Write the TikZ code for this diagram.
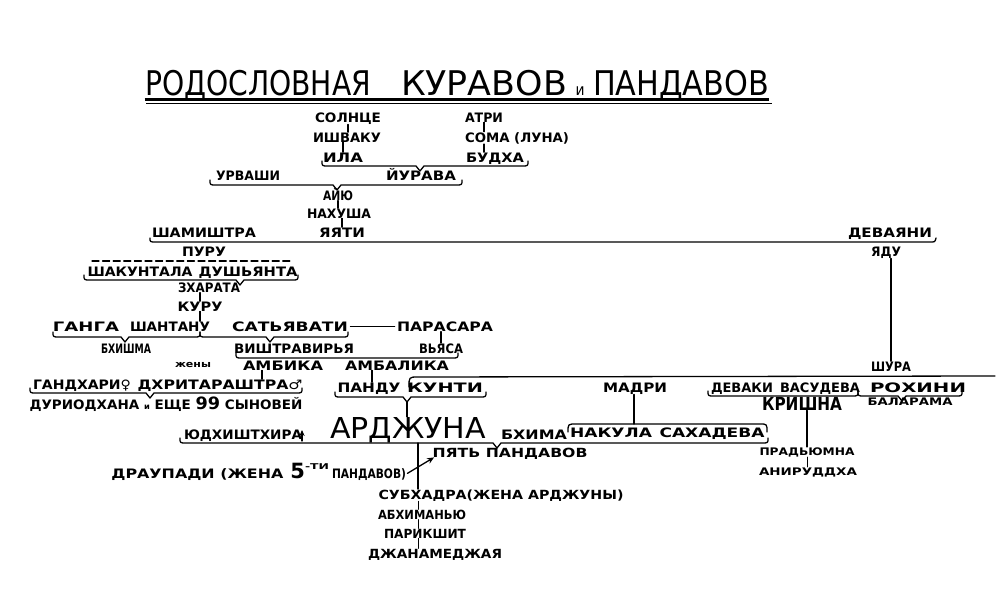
\documentclass[tikz,border=0pt]{standalone}
\usepackage{fontspec}
\usepackage{graphicx}
\setmainfont{DejaVu Sans}
\usetikzlibrary{arrows.meta}
\newsavebox\fwbox
\newlength\fwlen
\newcommand\fw[2]{\sbox\fwbox{#2}\setlength\fwlen{\wd\fwbox}\pgfmathsetmacro\fwscale{#1*0.5/\fwlen}\scalebox{\fwscale}[1]{\usebox\fwbox}}
\newcommand\fsz[1]{\fontsize{#1}{#1}\selectfont}
% underline brace with a tip: x1, x2, tip x, y
\newcommand\ubr[4]{\draw[ln] (#1,#4-5) .. controls (#1,#4) .. (#1+6,#4) -- (#3-4,#4) -- (#3,#4+5) -- (#3+4,#4) -- (#2-6,#4) .. controls (#2,#4) .. (#2,#4-5);}
% underline brace without tip: x1, x2, y
\newcommand\uln[3]{\draw[ln] (#1,#3-5) .. controls (#1,#3) .. (#1+6,#3) -- (#2-6,#3) .. controls (#2,#3) .. (#2,#3-5);}
\begin{document}
\begin{tikzpicture}[x=0.5pt,y=-0.5pt,
  lb/.style={inner sep=0pt,anchor=base,font=\bfseries\fsz{6.5}},
  lr/.style={inner sep=0pt,anchor=base,font=\bfseries\fsz{6.3}},
  sm/.style={inner sep=0pt,anchor=base,font=\bfseries\fsz{5.2}},
  ttl/.style={inner sep=0pt,anchor=base,font=\fsz{17}},
  ln/.style={line width=0.65pt,line cap=round,line join=round}]
\fill[white] (0,0) rectangle (1000,589);
\useasboundingbox (0,0) rectangle (1000,589);

% ---------- title ----------
\node[ttl] (ti1) at (258,95) {\fw{226}{РОДОСЛОВНАЯ}};
\node[ttl] (ti2) at (484,95) {\fw{166}{КУРАВОВ}};
\node[inner sep=0pt,anchor=base,font=\fsz{8}] (ti3) at (580,95) {\fw{9}{и}};
\node[ttl] (ti4) at (681,95) {\fw{176}{ПАНДАВОВ}};
\draw[line width=1.3pt] (ti1.base west |- 0,99.5) -- (ti4.base east |- 0,99.5);
\draw[line width=0.35pt] (146,103) -- (772,103);

% ---------- top ----------
\node[lb] (solnce) at (348,122) {\fw{66}{СОЛНЦЕ}};
\node[lb] (ishvaku) at (347,142) {\fw{68}{ИШВАКУ}};
\node[lb] (ila) at (343,162) {\fw{40}{ИЛА}};
\node[lb] (atri) at (484,122) {\fw{38}{АТРИ}};
\node[lb] (soma) at (517,142) {\fw{104}{СОМА (ЛУНА)}};
\node[lb] (budha) at (495,162) {\fw{58}{БУДХА}};
\draw[ln] (solnce.south) -- (solnce.south |- ishvaku.north);
\draw[ln] (ila.north |- ishvaku.south) -- (ila.north);
\draw[ln] (atri.south) -- (atri.south |- soma.north);
\draw[ln] (atri.south |- soma.south) -- (atri.south |- budha.north);
\ubr{322}{528}{420}{166}

\node[lb] (urvashi) at (248,180) {\fw{64}{УРВАШИ}};
\node[lb] (pururava) at (421,180) {\fw{70}{ЙУРАВА}};
\ubr{210}{462}{337}{185}

\node[lb] (ayu) at (338,200) {\fw{30}{АЙЮ}};
\node[lb] (nahusha) at (339,218) {\fw{64}{НАХУША}};
\node[lb] (yayati) at (342,237) {\fw{46}{ЯЯТИ}};
\draw[ln] (ayu.south) -- (ayu.south |- nahusha.north);
\draw[ln] (yayati.north |- nahusha.south) -- (yayati.north);

\node[lb] (sharmishtha) at (204,237) {\fw{104}{ШАМИШТРА}};
\node[lb] (devayani) at (890,237) {\fw{84}{ДЕВАЯНИ}};
\draw[ln] (150,238) .. controls (150,242) .. (156,242) -- (930,242) .. controls (935,242) .. (936,238);

\node[lb] (puru) at (204,256) {\fw{44}{ПУРУ}};
\node[lb] (yadu) at (886,256) {\fw{30}{ЯДУ}};
\draw[ln,dash pattern=on 3.5pt off 1.8pt] (92,261) -- (290,261);

\node[lb] (shakuntala) at (140,276) {\fw{105}{ШАКУНТАЛА}};
\node[lb] (dushyanta) at (248,276) {\fw{99}{ДУШЬЯНТА}};
\ubr{84}{298}{240}{280}

\node[lb] (bharata) at (209,292) {\fw{62}{ЗХАРАТА}};
\node[lb] (kuru) at (200,311) {\fw{45}{КУРУ}};
\draw[ln] (kuru.north |- bharata.south) -- (kuru.north);

\node[lb] (ganga) at (86,331) {\fw{66}{ГАНГА}};
\node[lb] (shantanu) at (170,331) {\fw{80}{ШАНТАНУ}};
\node[lb] (satyavati) at (290,331) {\fw{116}{САТЬЯВАТИ}};
\node[lb] (parasara) at (445,331) {\fw{96}{ПАРАСАРА}};
\draw[ln] (kuru.south) -- (kuru.south |- shantanu.north);
\draw[ln] (satyavati.east) ++(2,0) -- ([xshift=-1pt]parasara.west);
\ubr{53}{200}{125}{337}
\ubr{200}{348}{270}{337}

\node[lb] (bhishma) at (126,353) {\fw{50}{БХИШМА}};
\node[lb] (vichitra) at (294,353) {\fw{120}{ВИШТРАВИРЬЯ}};
\node[lb] (vyasa) at (441,353) {\fw{44}{ВЬЯСА}};
\draw[ln] (vyasa.north |- parasara.south) -- (vyasa.north);
\uln{236}{458}{358}

\node[inner sep=0pt,anchor=base,font=\bfseries\fsz{4.6}] (zheny) at (193,367) {\fw{36}{жены}};
\node[lb] (ambika) at (283,370) {\fw{80}{АМБИКА}};
\node[lb] (ambalika) at (397,370) {\fw{104}{АМБАЛИКА}};

\node[lb] (gandhari) at (82,389) {\fw{98}{ГАНДХАРИ♀}};
\node[lb] (dhrita) at (220,389) {\fw{165}{ДХРИТАРАШТРА♂}};
\coordinate (ta) at (262,0);
\coordinate (tb) at (372,0);
\draw[ln] (ambika.south -| ta) -- (ta |- dhrita.north);
\ubr{30}{302}{150}{393}
\node[lb] (duryodhana) at (166,409) {\fw{273}{ДУРИОДХАНА {\fsz{4}и} ЕЩЕ {\fsz{8.5}99} СЫНОВЕЙ}};

\node[lb] (pandu) at (369,392) {\fw{63}{ПАНДУ}};
\node[lb] (kunti) at (445,392) {\fw{76}{КУНТИ}};
\draw[ln] (ambalika.south -| tb) -- (tb |- pandu.north);
\ubr{335}{486}{407}{397}

\node[lb] (shura) at (891,371) {\fw{40}{ШУРА}};
\draw[ln] (shura.north |- yadu.south) -- (shura.north);
\draw[ln] (409,387) .. controls (409,377) .. (418,377) -- (995,376);

\node[lb] (madri) at (635,392) {\fw{64}{МАДРИ}};
\node[lb] (devaki) at (742,392) {\fw{62}{ДЕВАКИ}};
\node[lb] (vasudeva) at (820,392) {\fw{80}{ВАСУДЕВА}};
\node[lb] (rohini) at (918,392) {\fw{96}{РОХИНИ}};
\uln{708}{858}{396}
\ubr{858}{962}{902}{396}
\node[inner sep=0pt,anchor=base,font=\bfseries\fsz{9}] (krishna) at (802,410) {\fw{80}{КРИШНА}};
\node[sm] (balarama) at (910,405) {\fw{85}{БАЛАРАМА}};

\node[sm] (pradyumna) at (807,455) {\fw{95}{ПРАДЬЮМНА}};
\node[sm] (aniruddha) at (808,475) {\fw{98}{АНИРУДДХА}};
\draw[ln] (pradyumna.north |- krishna.south) -- (pradyumna.north);
\draw[ln,line width=0.4pt] (pradyumna.south) -- (pradyumna.south |- aniruddha.north);

% ---------- Pandavas ----------
\node[lb] (yudhi) at (243,439) {\fw{118}{ЮДХИШТХИРА}};
\node[inner sep=0pt,anchor=base,font=\fsz{14.4}] (arjuna) at (408,438) {\fw{156}{АРДЖУНА}};
\node[lb] (bhima) at (534,439) {\fw{66}{БХИМА}};
\node[lb] (nakula) at (611,437) {\fw{82}{НАКУЛА}};
\node[lb] (sahadeva) at (712,437) {\fw{105}{САХАДЕВА}};
\coordinate (pk) at (407,402);
\draw[ln] (pk) -- (pk |- arjuna.north);
\draw[ln] (568,432) .. controls (568,424) .. (576,424) -- (760,424) .. controls (767,424) .. (767,432);
\coordinate (ov) at (634,424);
\draw[ln] (madri.south -| ov) -- (ov);
\ubr{180}{768}{497}{443}
\draw[ln,-{Stealth[length=3pt,width=2.6pt]}] (302,441) -- (302,430);

\node[lr] (pyat) at (510,457) {\fw{155}{ПЯТЬ ПАНДАВОВ}};
\node[lb,anchor=base west] (draupadi) at (111,478) {\fw{172}{ДРАУПАДИ (ЖЕНА}\hspace{3.5pt}{\fsz{10.5}5}\raisebox{1.25ex}{\fw{24}{\fsz{4}-ТИ}}\hspace{1.5pt}\fw{74}{ПАНДАВОВ)}};
\draw[ln,-{Stealth[length=3.5pt,width=3pt]}] ([xshift=0.5pt,yshift=-1pt]draupadi.east) -- ([xshift=1pt,yshift=1pt]pyat.south west);

\node[lr] (subhadra) at (501,499) {\fw{245}{СУБХАДРА(ЖЕНА АРДЖУНЫ)}};
\node[lr] (abhimanyu) at (422,519) {\fw{88}{АБХИМАНЬЮ}};
\node[lr] (parikshit) at (425,538) {\fw{82}{ПАРИКШИТ}};
\node[lr] (janamejaya) at (435,558) {\fw{134}{ДЖАНАМЕДЖАЯ}};
\coordinate (aj) at (418,443);
\draw[ln] (aj) -- (aj |- subhadra.north);
\draw[ln,line width=0.5pt] (aj |- subhadra.south) -- (aj |- abhimanyu.north);
\draw[ln,line width=0.5pt] (aj |- abhimanyu.south) -- (aj |- parikshit.north);
\draw[ln,line width=0.5pt] (aj |- parikshit.south) -- (aj |- janamejaya.north);
\end{tikzpicture}
\end{document}
